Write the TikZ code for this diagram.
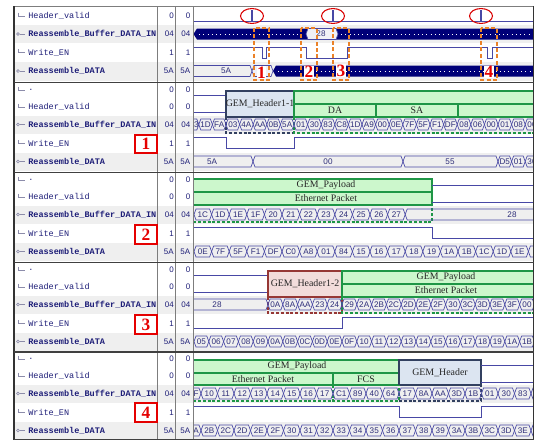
\documentclass[tikz,border=0pt]{standalone}
\usepackage{fontspec}
\setmainfont{Liberation Serif}
\newfontfamily\monof{Liberation Mono}
\newfontfamily\sansf{Liberation Sans}

\definecolor{wv}{RGB}{72,72,165}
\definecolor{hextxt}{RGB}{45,45,120}
\definecolor{nametxt}{RGB}{30,30,120}
\definecolor{navyb}{RGB}{0,0,120}
\definecolor{bgg}{RGB}{239,239,239}
\definecolor{gridc}{RGB}{125,125,125}
\definecolor{grf}{RGB}{204,247,204}
\definecolor{grd}{RGB}{30,150,70}
\definecolor{blf}{RGB}{220,229,241}
\definecolor{bld}{RGB}{50,64,96}
\definecolor{pkf}{RGB}{242,220,219}
\definecolor{pkd}{RGB}{150,55,53}
\definecolor{orn}{RGB}{235,130,40}
\definecolor{iconc}{RGB}{140,140,170}
\definecolor{lighthex}{RGB}{240,240,246}

\tikzset{
 wave/.style={draw=wv,line width=0.65pt},
 hexc/.style={draw=wv,line width=0.5pt},
 hexlbl/.style={font=\sansf\fontsize{6.1}{6.5}\selectfont,text=hextxt,inner sep=0pt},
 bitname/.style={font=\monof\fontsize{6.4}{7}\selectfont,text=nametxt,anchor=west,inner sep=0pt},
 busname/.style={font=\monof\bfseries\fontsize{6.4}{7}\selectfont,text=nametxt,anchor=west,inner sep=0pt},
 valtxt/.style={font=\sansf\fontsize{6}{7}\selectfont,text=nametxt,anchor=east,inner sep=0pt},
 grnbox/.style={fill=grf,draw=grd,line width=0.8pt},
 blubox/.style={fill=blf,draw=bld,line width=0.8pt},
 pnkbox/.style={fill=pkf,draw=pkd,line width=0.8pt},
 grndash/.style={draw=grd,line width=0.8pt,dash pattern=on 2.2pt off 1.4pt},
 bludash/.style={draw=bld,line width=0.8pt,dash pattern=on 2.2pt off 1.4pt},
 pnkdash/.style={draw=pkd,line width=0.8pt,dash pattern=on 2.2pt off 1.4pt},
 boxlbl/.style={font=\fontsize{7.4}{8}\selectfont,text=black!85,inner sep=0pt},
 orbox/.style={draw=orn,line width=1.1pt,dash pattern=on 3pt off 1.8pt},
 rednum/.style={font=\bfseries\fontsize{13}{13}\selectfont,text=red!90!black,inner sep=0.3pt},
 redbox/.style={draw=red!90!black,fill=white,line width=0.8pt},
 redell/.style={draw=red!85!black,line width=0.8pt},
 gridv/.style={draw=gridc,line width=0.75pt},
 sepl/.style={draw=black!75,line width=1.1pt},
 iconl/.style={draw=iconc,line width=0.5pt},
 dotl/.style={draw=white,line width=0.7pt,dash pattern=on 0.7pt off 2.5pt},
}

% #1 prefix, #2 y, #3 x0, #4 pitch, #5 labels
\newcommand\hexrowX[5]{%
  \foreach \lab [count=\i from 0] in {#5}{%
    \pgfmathsetmacro\xa{#3+\i*#4}%
    \pgfmathsetmacro\xb{\xa+#4}%
    \pgfmathsetmacro\xc{\xa+0.5*#4}%
    \draw[hexc] (\xa,#2) -- (\xa+2,#2-5.5) -- (\xb-2,#2-5.5) -- (\xb,#2) -- (\xb-2,#2+5.5) -- (\xa+2,#2+5.5) -- cycle;
    \node[hexlbl] (#1\i) at (\xc,#2) {\lab};
  }%
}
% #1 name, #2 y, #3 xa, #4 xb, #5 xlabel, #6 label
\newcommand\hexsegX[6]{%
  \draw[hexc] (#3,#2) -- (#3+2,#2-5.5) -- (#4-2,#2-5.5) -- (#4,#2) -- (#4-2,#2+5.5) -- (#3+2,#2+5.5) -- cycle;
  \node[hexlbl] (#1) at (#5,#2) {#6};
}
% #1 id, #2 y, #3 name, #4 value
\newcommand\bitrowX[4]{%
  \draw[iconl] (18,#2-3.5) -- (18,#2) -- (25,#2);
  \node[bitname] (#1) at (28,#2) {#3};
  \node[valtxt] (#1a) at (174,#2) {#4};
  \node[valtxt] (#1b) at (190.5,#2) {#4};
}
\newcommand\busrowX[4]{%
  \draw[iconl] (18,#2) circle[radius=1.1pt];
  \draw[iconl] (19.5,#2) -- (25,#2);
  \node[busname] (#1) at (28,#2) {#3};
  \node[valtxt] (#1a) at (174,#2) {#4};
  \node[valtxt] (#1b) at (190.5,#2) {#4};
}

\begin{document}
\begin{tikzpicture}[x=0.75pt,y=-0.75pt]
\useasboundingbox (0,0) rectangle (539,440);
\fill[white] (0,0) rectangle (539,440);

% ---------- row backgrounds ----------
\fill[bgg] (14,25) rectangle (533,43);
\fill[bgg] (14,62) rectangle (533,80.5);
\foreach \B in {90,180,270,359}{
  \fill[bgg] (14,\B+26) rectangle (533,\B+43.5);
  \fill[bgg] (14,\B+62.5) rectangle (533,\B+80.5);
}

% ---------- names and values ----------
\bitrowX{a0}{16}{Header\_valid}{0}
\busrowX{a1}{34}{Reassemble\_Buffer\_DATA\_IN}{04}
\bitrowX{a2}{52.5}{Write\_EN}{1}
\busrowX{a3}{71}{Reassemble\_DATA}{5A}

\bitrowX{b0}{90}{.}{0}
\bitrowX{b1}{107}{Header\_valid}{0}
\busrowX{b2}{124.5}{Reassemble\_Buffer\_DATA\_IN}{04}
\bitrowX{b3}{143.5}{Write\_EN}{1}
\busrowX{b4}{161.5}{Reassemble\_DATA}{5A}

\bitrowX{c0}{180}{.}{0}
\bitrowX{c1}{197}{Header\_valid}{0}
\busrowX{c2}{214.5}{Reassemble\_Buffer\_DATA\_IN}{04}
\bitrowX{c3}{233.5}{Write\_EN}{1}
\busrowX{c4}{251.5}{Reassemble\_DATA}{5A}

\bitrowX{d0}{270}{.}{0}
\bitrowX{d1}{287}{Header\_valid}{0}
\busrowX{d2}{304.5}{Reassemble\_Buffer\_DATA\_IN}{04}
\bitrowX{d3}{323.5}{Write\_EN}{1}
\busrowX{d4}{341.5}{Reassemble\_DATA}{5A}

\bitrowX{e0}{359}{.}{0}
\bitrowX{e1}{376}{Header\_valid}{0}
\busrowX{e2}{393.5}{Reassemble\_Buffer\_DATA\_IN}{04}
\bitrowX{e3}{412.5}{Write\_EN}{1}
\busrowX{e4}{430.5}{Reassemble\_DATA}{5A}

% ---------- panel 0 waves ----------
\begin{scope}
\clip (193.5,7) rectangle (533,82);
\draw[wave] (193,21) -- (545,21);
\draw[wave,line width=1pt] (252,21) -- (252,10);
\draw[wave,line width=1pt] (333,21) -- (333,10);
\draw[wave,line width=1pt] (481,21) -- (481,10);
\fill[navyb] (193.5,34) -- (197,28.5) -- (545,28.5) -- (545,39.5) -- (197,39.5) -- cycle;
\draw[hexc,fill=lighthex] (306,34) -- (308,28.5) -- (336,28.5) -- (338,34) -- (336,39.5) -- (308,39.5) -- cycle;
\node[hexlbl] (t28) at (321,34) {28};
\draw[dotl] (199,34) -- (304,34);
\draw[dotl] (341,34) -- (545,34);
\draw[wave] (193,47) -- (262,47) -- (262,58) -- (266,58) -- (266,47) -- (306,47) -- (306,58) -- (347,58) -- (347,47) -- (487,47) -- (487,58) -- (492,58) -- (492,47) -- (545,47);
\hexsegX{t5a}{71}{150}{252}{226}{5A}
\draw[hexc,fill=lighthex] (252,71) -- (254,65.5) -- (271,65.5) -- (273,71) -- (271,76.5) -- (254,76.5) -- cycle;
\fill[navyb] (273,71) -- (276,65.5) -- (545,65.5) -- (545,76.5) -- (276,76.5) -- cycle;
\draw[dotl] (278,71) -- (545,71);
\end{scope}

% ---------- panel 1 waves ----------
\begin{scope}
\clip (193.5,83) rectangle (533,172);
\draw[wave] (193,95) -- (226,95);
\draw[wave] (193,112) -- (226,112);
\draw[blubox] (226,91) rectangle (294,117);
\node[boxlbl] (h11) at (260,104) {GEM\_Header1-1};
\draw[bludash] (226,117) -- (226,133) -- (294,133);
\draw[grnbox] (294,91) rectangle (545,104);
\draw[grnbox] (294,104) rectangle (545,117);
\draw[draw=grd,line width=0.8pt] (376,104) -- (376,117) (458,104) -- (458,117);
\node[boxlbl] (da) at (335,110.5) {DA};
\node[boxlbl] (sa) at (417,110.5) {SA};
\draw[grndash] (294,117) -- (294,133) -- (545,133);
\hexrowX{pb}{124.5}{185.2}{13.6}{{},1D,FA,03,4A,AA,0B,5A,01,30,83,C8,1D,A9,00,0E,7F,5F,F1,DF,08,06,00,01,08,00}
\node[hexlbl] (pb0x) at (196.3,124.5) {3};
\draw[wave] (193,137.5) -- (226,137.5) -- (226,148.5) -- (294,148.5) -- (294,137.5) -- (545,137.5);
\hexsegX{r5a}{161.5}{150}{253}{212}{5A}
\hexsegX{r00}{161.5}{253}{403}{328}{00}
\hexsegX{r55}{161.5}{403}{498}{450}{55}
\hexrowX{pr}{161.5}{498}{13.6}{D5,01,30}
\end{scope}

% ---------- panel 2 waves ----------
\begin{scope}
\clip (193.5,173) rectangle (533,262);
\draw[grnbox] (150,179) rectangle (432,192);
\draw[grnbox] (150,192) rectangle (432,205);
\node[boxlbl] (gp2) at (326,185.5) {GEM\_Payload};
\node[boxlbl] (ep2) at (326,198.5) {Ethernet Packet};
\draw[grndash] (150,222) -- (432,222) -- (432,205);
\draw[wave] (432,185) -- (545,185);
\draw[wave] (432,202) -- (545,202);
\hexrowX{qb}{214.5}{194}{17.6}{1C,1D,1E,1F,20,21,22,23,24,25,26,27}
\hexsegX{q28}{214.5}{405.2}{600}{512}{28}
\draw[wave] (193,227.5) -- (432,227.5) -- (432,238.5) -- (545,238.5);
\hexrowX{qr}{251.5}{194}{17.6}{0E,7F,5F,F1,DF,C0,A8,01,84,15,16,17,18,19,1A,1B,1C,1D,1E,{}}
\end{scope}

% ---------- panel 3 waves ----------
\begin{scope}
\clip (193.5,263) rectangle (533,352);
\draw[wave] (193,275) -- (268,275);
\draw[wave] (193,292) -- (268,292);
\draw[pnkbox] (268,271) rectangle (342,297);
\node[boxlbl] (h12) at (305,284) {GEM\_Header1-2};
\draw[pnkdash] (268,297) -- (268,313) -- (342,313) -- (342,297);
\draw[grnbox] (342,271) rectangle (545,284);
\draw[grnbox] (342,284) rectangle (545,297);
\node[boxlbl] (gp3) at (446,277.5) {GEM\_Payload};
\node[boxlbl] (ep3) at (446,290.5) {Ethernet Packet};
\draw[grndash] (342,297) -- (342,313) -- (545,313);
\hexsegX{s28}{304.5}{100}{268}{217}{28}
\hexrowX{sb}{304.5}{268}{14.8}{0A,8A,AA,23,24,29,2A,2B,2C,2D,2E,2F,30,3C,3D,3E,3F,00}
\draw[wave] (193,328.5) -- (342,328.5) -- (342,317.5) -- (545,317.5);
\hexrowX{sr}{341.5}{194}{14.8}{05,06,07,08,09,0A,0B,0C,0D,0E,0F,10,11,12,13,14,15,16,17,18,19,1A,1B}
\end{scope}

% ---------- panel 4 waves ----------
\begin{scope}
\clip (193.5,352) rectangle (533,440);
\draw[grnbox] (150,360) rectangle (399,373);
\draw[grnbox] (150,373) rectangle (333,385);
\draw[grnbox] (333,373) rectangle (399,385);
\node[boxlbl] (gp4) at (297,366.5) {GEM\_Payload};
\node[boxlbl] (ep4) at (263,379) {Ethernet Packet};
\node[boxlbl] (fcs) at (366,379) {FCS};
\draw[blubox] (399,360) rectangle (481,385);
\node[boxlbl] (gh4) at (440,372.5) {GEM\_Header};
\draw[grndash] (150,401) -- (399,401) -- (399,385);
\draw[grndash] (333,385) -- (333,401);
\draw[bludash] (399,401) -- (481,401) -- (481,385);
\draw[wave] (481,365) -- (545,365);
\draw[wave] (481,382) -- (545,382);
\hexrowX{ub}{393.5}{184.5}{16.5}{{},10,11,12,13,14,15,16,17,C1,89,40,64,17,8A,AA,3D,1B,01,30,83,{}}
\node[hexlbl] (ub0x) at (196.2,393.5) {F};
\draw[wave] (193,406.5) -- (399,406.5) -- (399,417.5) -- (481,417.5) -- (481,406.5) -- (545,406.5);
\hexrowX{ur}{430.5}{184.5}{16.5}{{},2B,2C,2D,2E,2F,30,31,32,33,34,35,36,37,38,39,3A,3B,3C,3D,3E,{}}
\node[hexlbl] (ur0x) at (196.2,430.5) {A};
\end{scope}

% ---------- grid lines ----------
\draw[gridv] (157,6) -- (157,440);
\draw[gridv] (175.5,6) -- (175.5,440);
\draw[gridv] (193,6) -- (193,440);
\draw[gridc,line width=0.6pt] (14,6) -- (533.5,6);
\draw[black!80,line width=1.3pt] (14,6) -- (14,440);
\draw[black!80,line width=1.3pt] (533.5,6) -- (533.5,440);
\draw[sepl] (14,82.5) -- (533.5,82.5);
\draw[sepl] (14,172.5) -- (533.5,172.5);
\draw[sepl] (14,262.5) -- (533.5,262.5);
\draw[sepl] (14,352) -- (533.5,352);
\draw[sepl] (14,439.5) -- (533.5,439.5);

% ---------- numbered boxes in name column ----------
\draw[redbox] (135,135) rectangle (157,153);
\node[rednum] (n1) at (146,144) {1};
\draw[redbox] (135,225) rectangle (157,244);
\node[rednum] (n2) at (146,234.5) {2};
\draw[redbox] (135,315) rectangle (157,334);
\node[rednum] (n3) at (146,324.5) {3};
\draw[redbox] (135,403) rectangle (157,422);
\node[rednum] (n4) at (146,412.5) {4};

% ---------- top-panel annotations ----------
\draw[orbox] (254,28) rectangle (269,80);
\draw[orbox] (301,28) rectangle (317,80);
\draw[orbox] (333,28) rectangle (349,80);
\draw[orbox] (481,28) rectangle (497,80);
\node[rednum,fill=white] (o1) at (261.5,72.5) {1};
\node[rednum,fill=white] (o2) at (309,72) {2};
\node[rednum,fill=white] (o3) at (341,70.5) {3};
\node[rednum,fill=white] (o4) at (489,72) {4};
\draw[redell] (252,16) ellipse [x radius=8.6pt, y radius=5.6pt];
\draw[redell] (333,16) ellipse [x radius=8.6pt, y radius=5.6pt];
\draw[redell] (481,16) ellipse [x radius=8.6pt, y radius=5.6pt];
\end{tikzpicture}
\end{document}
